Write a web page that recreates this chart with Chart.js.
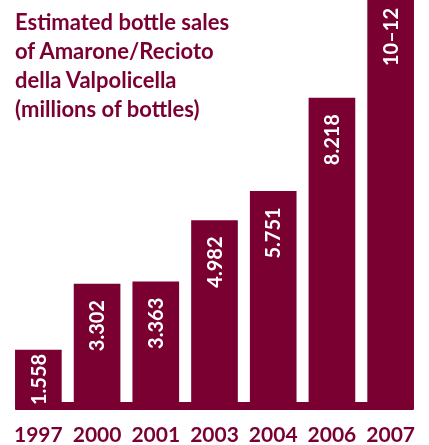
<!DOCTYPE html>
<html>
<head>
<meta charset="utf-8">
<script src="https://cdn.jsdelivr.net/npm/chart.js@4.4.1/dist/chart.umd.min.js"></script>
<style>
	html, body { margin: 0; padding: 0; background: #fff; }
	.wrap { position: relative; width: 429px; height: 445px; }
	canvas { display: block; }
	.title {
		position: absolute;
		left: 15px;
		top: 7px;
		font: bold 22px/29px Lato, sans-serif;
		color: #7b0032;
		pointer-events: none;
	}
</style>
</head>
<body>
<div class="wrap">
	<canvas id="chart" width="429" height="445"></canvas>
	<div class="title">Estimated bottle sales<br>of Amarone/Recioto<br>della Valpolicella<br>(millions of bottles)</div>
</div>
<script>
const years = ['1997', '2000', '2001', '2003', '2004', '2006', '2007'];
const sales = [1.558, 3.302, 3.363, 4.982, 5.751, 8.218, 11];
const valueLabels = ['1.558', '3.302', '3.363', '4.982', '5.751', '8.218', '10–12'];

const maroon = '#7b0032';
const barWidth = 46;

// the thin band joining the bars at the bottom
const basePlate = {
	id: 'basePlate',
	beforeDatasetsDraw(chart) {
		const { ctx, scales: { x, y } } = chart;
		const zero = y.getPixelForValue(0);
		const left = x.getPixelForValue(0) - barWidth / 2;
		const right = x.getPixelForValue(years.length - 1) + barWidth / 2;

		ctx.save();
		ctx.fillStyle = maroon;
		ctx.fillRect(left, zero - 7, right - left, 8);
		ctx.restore();
	},
};

// vertical value labels inside each bar, reading upwards
const barLabels = {
	id: 'barLabels',
	afterDatasetsDraw(chart) {
		const { ctx, chartArea, scales: { y } } = chart;
		const zero = y.getPixelForValue(0);
		const size = 20;
		const capHeight = size * 0.72;

		ctx.save();
		ctx.font = `bold ${size}px Lato, sans-serif`;
		ctx.fillStyle = '#ffffff';
		ctx.textAlign = 'right';
		ctx.textBaseline = 'alphabetic';

		chart.getDatasetMeta(0).data.forEach((bar, index) => {
			const text = valueLabels[index];
			const width = ctx.measureText(text).width;
			const clipped = bar.y < chartArea.top;
			let start = clipped ? chartArea.top + 8 : bar.y + 16;

			if (start + width > zero - 4) {
				start = zero - 4 - width;
			}

			ctx.save();
			ctx.translate(bar.x, start);
			ctx.rotate(-Math.PI / 2);
			ctx.fillText(text, 0, capHeight / 2);
			ctx.restore();
		});

		ctx.restore();
	},
};

new Chart(document.getElementById('chart'), {
	type: 'bar',
	data: {
		labels: years,
		datasets: [
			{
				data: sales,
				backgroundColor: maroon,
				borderWidth: 0,
				barThickness: barWidth,
				clip: false,
			},
		],
	},
	options: {
		responsive: false,
		animation: false,
		events: [],
		layout: {
			padding: { left: 38, right: 28, top: 0, bottom: 0 },
		},
		plugins: {
			legend: { display: false },
			tooltip: { enabled: false },
		},
		scales: {
			x: {
				offset: false,
				grid: { display: false, drawTicks: false },
				border: { display: false },
				afterFit(scale) {
					scale.height = 36;
				},
				ticks: {
					color: maroon,
					padding: 14,
					maxRotation: 0,
					font: { family: 'Lato, sans-serif', size: 21, weight: 'bold' },
				},
			},
			y: {
				display: false,
				min: 0,
				max: 10.81,
			},
		},
	},
	plugins: [basePlate, barLabels],
});
</script>
</body>
</html>
